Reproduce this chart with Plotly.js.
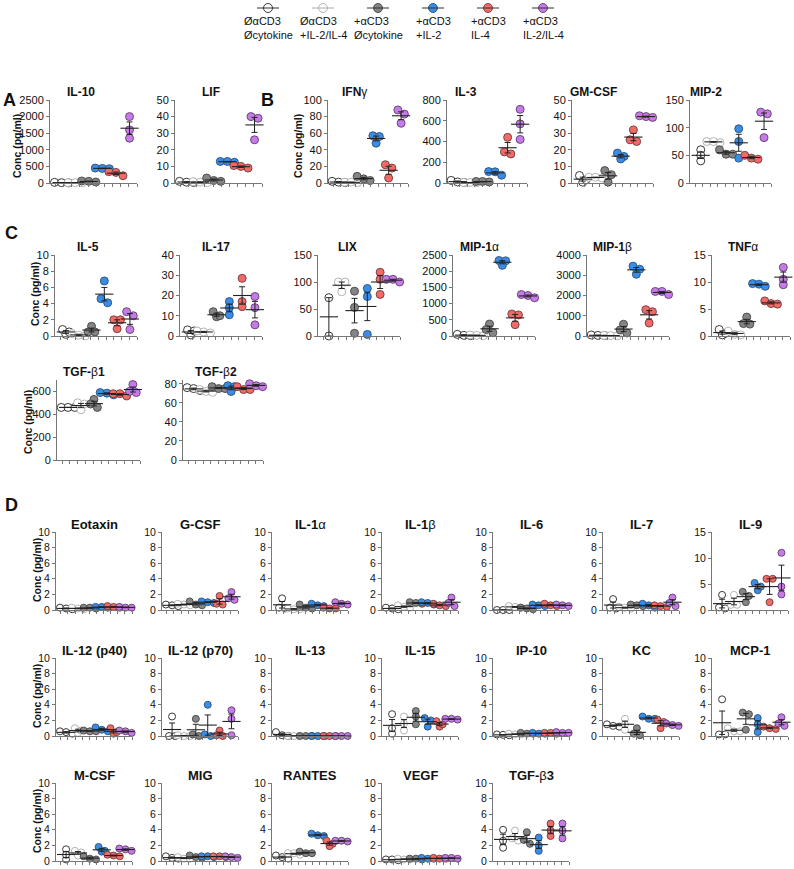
<!DOCTYPE html>
<html>
<head>
<meta charset="utf-8">
<script src="https://cdn.plot.ly/plotly-3.0.1.min.js"></script>
<style>
  html, body { margin: 0; padding: 0; background: #fff; }
  #chart { width: 794px; height: 869px; }
</style>
</head>
<body>
<div id="chart"></div>
<script>
// groups (legend order)
const groupLabels = ['ØαCD3<br>Øcytokine', 'ØαCD3<br>+IL-2/IL-4', '+αCD3<br>Øcytokine',
                     '+αCD3<br>+IL-2', '+αCD3<br>IL-4', '+αCD3<br>IL-2/IL-4'];

// values, pg/ml, 3 replicates per group
const IL10  = [[20,10,5],[10,5,10],[60,30,50],[450,440,430],[340,220,320],[2000,1600,1350]];
const LIF   = [[1,0.5,0.3],[0.5,0.2,0.8],[3,1,1.5],[13,12.5,13],[10.5,9,10],[40,39,26]];
const IFNG  = [[2,0.5,1],[1,0.5,1],[8,3,5],[57,56,48],[22,18,6],[88,83,72]];
const IL3   = [[25,5,10],[5,5,3],[15,10,15],[110,108,75],[440,300,280],[710,570,420]];
const GMCSF = [[4.5,0.5,2],[3.5,3,3.5],[7.5,0.5,5],[18,16,14.5],[32,25,26],[40.5,40,39.5]];
const MIP2  = [[60,50,40],[75,73,75],[60,52,52],[98,75,45],[50,45,43],[128,125,82]];

const IL5   = [[0.8,0.2,0.5],[0.3,0,0.1],[1.2,0.5,0.5],[6.8,4.6,4.1],[2,2,0.9],[3,2.5,0.8]];
const IL17  = [[3,0.5,2.5],[2.5,2,1.5],[12,9.5,10],[17,14,10.5],[28.5,17,14.5],[19.5,14,5.5]];
const LIX   = [[71,0],[100,100,82],[83,53,5],[88,73,3],[118,105,77],[105,105,100]];
const MIP1A = [[50,20,10],[20,10,30],[370,200,100],[2330,2320,2180],[680,650,350],[1280,1250,1180]];
const MIP1B = [[50,20,30],[30,20,10],[580,300,150],[3450,3300,3050],[1300,1200,640],[2200,2200,2050]];
const TNFA  = [[1.2,0.2,0.5],[0.9,0.3,0.2],[3.5,2.3,2.2],[9.7,9.6,9.2],[6.5,6,5.9],[12.7,10.5,9.5]];
const TGFB1 = [[460,460,460],[500,490,440],[530,490,460],[590,585,570],[580,580,560],[660,600,590]];
const TGFB2 = [[76,75,73],[74,72,71],[77,75,75],[78,77,72],[77,74,74],[80,78,77]];

const EOTAXIN = [[0.3,0.1,0.2],[0.2,0.1,0.3],[0.3,0.2,0.3],[0.4,0.3,0.4],[0.5,0.3,0.4],[0.4,0.3,0.3]];
const GCSF    = [[0.7,0.6,0.5],[0.7,0.6,0.8],[1.1,0.6,0.7],[1.0,0.9,1.1],[1.8,0.7,0.8],[2.3,1.5,1.3]];
const IL1A    = [[1.5,0.3,0.2],[0.2,0.1,0.1],[0.7,0.2,0.3],[0.8,0.5,0.6],[0.3,0.2,0.2],[1.0,0.7,0.8]];
const IL1B    = [[0.3,0.1,0.2],[0.3,0.4,0.6],[1.0,0.8,0.9],[1.0,0.7,0.9],[0.8,0.5,0.6],[1.6,0.5,0.9]];
const IL6     = [[0,0,0],[0.4,0.3,0.5],[0.2,0.1,0.3],[0.5,0.6,0.7],[0.8,0.5,0.6],[0.7,0.6,0.5]];
const IL7     = [[1.4,0.2,0.3],[0.3,0.2,0.4],[0.7,0.5,0.6],[0.8,0.3,0.6],[0.5,0.4,0.6],[1.6,0.5,0.9]];
const IL9     = [[2.9,0.5,0.3],[2.9,1.0,1.0],[3.5,2.7,1.5],[5.2,3.8,4.5],[6,6,1.5],[11,4.5,3]];

const IL12P40 = [[0.6,0.3,0.5],[1.0,0.4,0.7],[0.7,0.6,0.6],[1.1,0.6,0.8],[1.0,0.3,0.5],[0.7,0.6,0.4]];
const IL12P70 = [[2.5,0,0],[0.1,0,0],[2.2,0.2,0],[4.0,0.2,0],[0.7,0.1,0],[3.3,2.2,0.1]];
const IL13    = [[0.5,0.1,0],[0,0,0],[0,0,0],[0,0,0],[0,0,0],[0,0,0]];
const IL15    = [[2.8,0.3,1.0],[2.5,0.7,1.6],[3.2,2.5,1.5],[2.3,2.0,1.2],[1.9,1.2,1.5],[2.2,2.1,2.2]];
const IP10    = [[0.2,0.1,0.15],[0.3,0.2,0.2],[0.3,0.3,0.4],[0.4,0.3,0.3],[0.4,0.3,0.4],[0.5,0.4,0.4]];
const KC      = [[1.5,1.2,1.3],[2.2,1.5,0.8],[1.0,0.3,0.1],[2.5,2.2,2.2],[2.1,1.8,1.0],[1.6,1.3,1.4]];
const MCP1    = [[4.7,0.2,0.2],[1.0,0.6,0.6],[3.0,2.8,0.8],[2.3,1.5,0.5],[1.2,1.0,0.9],[2.4,1.6,1.3]];

const MCSF    = [[1.5,0.2,0.8],[1.1,1.3,0.7],[0.6,0.2,0.3],[1.8,1.2,1.3],[0.8,0.6,0.7],[1.6,1.3,1.5]];
const MIG     = [[0.6,0.3,0.4],[0.5,0.3,0.3],[0.7,0.5,0.4],[0.6,0.5,0.6],[0.6,0.5,0.6],[0.6,0.5,0.4]];
const RANTES  = [[0.7,0.3,0.5],[1.0,0.8,1.0],[1.2,1.0,1.0],[3.5,3.2,3.3],[2.6,2.2,1.9],[2.6,2.5,2.6]];
const VEGF    = [[0.2,0.1,0.2],[0.3,0.2,0.2],[0.3,0.2,0.3],[0.3,0.3,0.4],[0.4,0.3,0.3],[0.4,0.3,0.4]];
const TGFB3   = [[4.0,2.6,1.7],[3.9,2.9,2.6],[3.7,2.7,2.2],[3.0,2.0,1.3],[4.8,3.9,3.2],[4.8,3.9,2.9]];

// styles per group
const fillCol = ['#ffffff', '#ffffff', '#858585', '#3a8de6', '#f06b68', '#c77be8'];
const edgeCol = ['#222222', '#aaaaaa', '#444444', '#2b4f7a', '#6e3a3a', '#5e3c6e'];

const W = 794, H = 869;
const FONT = 'Arial, "Liberation Sans", sans-serif';

// row geometry (px); ly = vertical centre of the "Conc" label
const rows = {
  A:  {top: 100, bottom: 183, ly: 146, tf: 12, tk: 11, ms: 8},
  C1: {top: 255, bottom: 336, ly: 294, tf: 12, tk: 11, ms: 8},
  C2: {top: 380, bottom: 460, ly: 422, tf: 12, tk: 11, ms: 8},
  D1: {top: 532, bottom: 610, ly: 570, tf: 13, tk: 10.5, ms: 7},
  D2: {top: 658, bottom: 736, ly: 696, tf: 13, tk: 10.5, ms: 7},
  D3: {top: 783, bottom: 861, ly: 821, tf: 13, tk: 10.5, ms: 7}
};
const dX = [56, 162, 272, 382, 493, 603, 712];

// x = y-axis position, w = width, tx = title centre, yl = y-title centre (px)
const panels = [
  {t: '<b>IL-10</b>', v: IL10, max: 2500, dt: 500, x: 50, w: 87, tx: 81, r: 'A', yl: 17},
  {t: '<b>LIF</b>', v: LIF, max: 50, dt: 10, x: 175, w: 87, tx: 211, r: 'A'},
  {t: '<b>IFN</b>γ', v: IFNG, max: 100, dt: 20, x: 328, w: 80, tx: 354, r: 'A', yl: 298},
  {t: '<b>IL-3</b>', v: IL3, max: 800, dt: 200, x: 447, w: 80, tx: 466, r: 'A'},
  {t: '<b>GM-CSF</b>', v: GMCSF, max: 50, dt: 10, x: 572, w: 81, tx: 593, r: 'A'},
  {t: '<b>MIP-2</b>', v: MIP2, max: 150, dt: 50, x: 690, w: 81, tx: 706, r: 'A'},
  {t: '<b>IL-5</b>', v: IL5, max: 10, dt: 2, x: 55, w: 82, tx: 88, r: 'C1', yl: 35},
  {t: '<b>IL-17</b>', v: IL17, max: 40, dt: 10, x: 180, w: 82, tx: 216, r: 'C1'},
  {t: '<b>LIX</b>', v: LIX, max: 150, dt: 50, x: 318, w: 82, tx: 347, r: 'C1'},
  {t: '<b>MIP-1</b>α', v: MIP1A, max: 2500, dt: 500, x: 453, w: 82, tx: 479, r: 'C1'},
  {t: '<b>MIP-1</b>β', v: MIP1B, max: 4000, dt: 1000, x: 587, w: 82, tx: 612, r: 'C1'},
  {t: '<b>TNF</b>α', v: TNFA, max: 15, dt: 5, x: 712, w: 78, tx: 743, r: 'C1'},
  {t: '<b>TGF-</b>β<b>1</b>', v: TGFB1, max: 700, dt: 200, x: 57, w: 83, tx: 84, r: 'C2', yl: 28},
  {t: '<b>TGF-</b>β<b>2</b>', v: TGFB2, max: 84, dt: 20, x: 183, w: 80, tx: 216, r: 'C2'},
  {t: '<b>Eotaxin</b>', v: EOTAXIN, max: 10, dt: 2, x: dX[0], w: 76, r: 'D1', yl: 37},
  {t: '<b>G-CSF</b>', v: GCSF, max: 10, dt: 2, x: dX[1], w: 76, r: 'D1'},
  {t: '<b>IL-1</b>α', v: IL1A, max: 10, dt: 2, x: dX[2], w: 76, r: 'D1'},
  {t: '<b>IL-1</b>β', v: IL1B, max: 10, dt: 2, x: dX[3], w: 76, r: 'D1'},
  {t: '<b>IL-6</b>', v: IL6, max: 10, dt: 2, x: dX[4], w: 76, r: 'D1'},
  {t: '<b>IL-7</b>', v: IL7, max: 10, dt: 2, x: dX[5], w: 76, r: 'D1'},
  {t: '<b>IL-9</b>', v: IL9, max: 15, dt: 5, x: dX[6], w: 76, r: 'D1'},
  {t: '<b>IL-12 (p40)</b>', v: IL12P40, max: 10, dt: 2, x: dX[0], w: 76, r: 'D2', yl: 37},
  {t: '<b>IL-12 (p70)</b>', v: IL12P70, max: 10, dt: 2, x: dX[1], w: 76, r: 'D2'},
  {t: '<b>IL-13</b>', v: IL13, max: 10, dt: 2, x: dX[2], w: 76, r: 'D2'},
  {t: '<b>IL-15</b>', v: IL15, max: 10, dt: 2, x: dX[3], w: 76, r: 'D2'},
  {t: '<b>IP-10</b>', v: IP10, max: 10, dt: 2, x: dX[4], w: 76, r: 'D2'},
  {t: '<b>KC</b>', v: KC, max: 10, dt: 2, x: dX[5], w: 76, r: 'D2'},
  {t: '<b>MCP-1</b>', v: MCP1, max: 10, dt: 2, x: dX[6], w: 76, r: 'D2'},
  {t: '<b>M-CSF</b>', v: MCSF, max: 10, dt: 2, x: dX[0], w: 76, r: 'D3', yl: 37},
  {t: '<b>MIG</b>', v: MIG, max: 10, dt: 2, x: dX[1], w: 76, r: 'D3'},
  {t: '<b>RANTES</b>', v: RANTES, max: 10, dt: 2, x: dX[2], w: 76, r: 'D3'},
  {t: '<b>VEGF</b>', v: VEGF, max: 10, dt: 2, x: dX[3], w: 76, r: 'D3'},
  {t: '<b>TGF-</b>β<b>3</b>', v: TGFB3, max: 10, dt: 2, x: dX[4], w: 76, r: 'D3'}
];

const X0 = -0.85, X1 = 5.55;
const xTicks = [];
for (let k = 0; k <= 10; k++) xTicks.push(X1 - k * 0.6);

// simple prism-like swarm: rows of near-equal values, centred
function swarm(vals, pxPerUnit, step) {
  const order = vals.map((_, i) => i).sort((a, b) => vals[b] - vals[a]);
  const off = vals.map(() => 0);
  let row = [];
  const flush = () => row.forEach((k, j) => { off[k] = (j - (row.length - 1) / 2) * step; });
  order.forEach(k => {
    if (row.length && (vals[row[0]] - vals[k]) * pxPerUnit > 4.5) { flush(); row = []; }
    row.push(k);
  });
  flush();
  return off;
}

const traces = [];
const layout = {
  width: W, height: H,
  margin: {l: 0, r: 0, t: 0, b: 0},
  paper_bgcolor: '#fff', plot_bgcolor: 'rgba(0,0,0,0)',
  showlegend: false,
  font: {family: FONT, color: '#111'},
  annotations: []
};

panels.forEach((p, i) => {
  const R = rows[p.r];
  const n = i + 1;
  const xa = n === 1 ? 'x' : 'x' + n, ya = n === 1 ? 'y' : 'y' + n;
  const pxPerUnit = (R.bottom - R.top) / p.max;
  const gx = [], gy = [], fc = [], ec = [];
  p.v.forEach((vals, g) => {
    const off = swarm(vals, pxPerUnit, 0.52);
    vals.forEach((val, k) => {
      gx.push(g + off[k]); gy.push(val); fc.push(fillCol[g]); ec.push(edgeCol[g]);
    });
  });
  traces.push({
    type: 'scatter', mode: 'markers', x: gx, y: gy, xaxis: xa, yaxis: ya,
    cliponaxis: false, hoverinfo: 'skip',
    marker: {size: R.ms, color: fc, line: {color: ec, width: 0.9}}
  });
  const means = p.v.map(a => a.reduce((s, q) => s + q, 0) / a.length);
  const sems = p.v.map((a, g) => {
    const m = means[g];
    const sd = Math.sqrt(a.reduce((s, q) => s + (q - m) * (q - m), 0) / (a.length - 1));
    return sd / Math.sqrt(a.length);
  });
  traces.push({
    type: 'scatter', mode: 'markers', x: [0, 1, 2, 3, 4, 5], y: means, xaxis: xa, yaxis: ya,
    cliponaxis: false, hoverinfo: 'skip',
    marker: {symbol: 'line-ew', size: 13, color: '#222', line: {color: '#222', width: 1.1}},
    error_y: {type: 'data', array: sems, visible: true, color: '#222', thickness: 1, width: 3}
  });

  layout['xaxis' + (n === 1 ? '' : n)] = {
    domain: [p.x / W, (p.x + p.w) / W], range: [X0, X1], anchor: ya,
    showgrid: false, zeroline: false, showline: true, linecolor: '#777', linewidth: 1,
    ticks: 'outside', ticklen: 3, tickcolor: '#777', tickvals: xTicks, showticklabels: false,
    fixedrange: true
  };
  layout['yaxis' + (n === 1 ? '' : n)] = {
    domain: [1 - R.bottom / H, 1 - R.top / H], range: [0, p.max], anchor: xa,
    tick0: 0, dtick: p.dt, showgrid: false, zeroline: false, showline: true,
    linecolor: '#777', linewidth: 1, ticks: 'outside', ticklen: 3, tickcolor: '#777',
    tickfont: {size: R.tk, color: '#111'}, fixedrange: true
  };
  const tx = p.tx !== undefined ? p.tx : p.x + p.w / 2;
  layout.annotations.push({
    xref: 'paper', yref: 'paper', x: tx / W, y: 1 - (R.top - 8) / H,
    xanchor: 'center', yanchor: 'middle', showarrow: false, text: p.t,
    font: {size: R.tf, color: '#111'}
  });
  if (p.yl !== undefined) {
    layout.annotations.push({
      xref: 'paper', yref: 'paper', x: p.yl / W, y: 1 - R.ly / H,
      xanchor: 'center', yanchor: 'middle', textangle: -90, showarrow: false,
      text: '<b>Conc (pg/ml)</b>', font: {size: 10.5, color: '#111'}
    });
  }
});

// panel letters
[['A', 9, 100], ['B', 267, 100], ['C', 11, 233], ['D', 11, 505]].forEach(([t, x, y]) => {
  layout.annotations.push({
    xref: 'paper', yref: 'paper', x: x / W, y: 1 - y / H, xanchor: 'center', yanchor: 'middle',
    showarrow: false, text: '<b>' + t + '</b>', font: {size: 18, color: '#111'}
  });
});

// legend on its own axes (pixel coords)
const L = panels.length + 1;
layout['xaxis' + L] = {domain: [0, 1], range: [0, W], visible: false, fixedrange: true, anchor: 'y' + L};
layout['yaxis' + L] = {domain: [1 - 16 / H, 1], range: [16, 0], visible: false, fixedrange: true, anchor: 'x' + L};
groupLabels.forEach((lab, g) => {
  const cx = 268 + g * 55;
  const lc = g === 1 ? '#aaa' : '#333';
  traces.push({
    type: 'scatter', mode: 'lines', x: [cx - 11, cx + 11], y: [8, 8],
    xaxis: 'x' + L, yaxis: 'y' + L, hoverinfo: 'skip', cliponaxis: false,
    line: {color: lc, width: 1}
  });
  traces.push({
    type: 'scatter', mode: 'markers', x: [cx], y: [8],
    xaxis: 'x' + L, yaxis: 'y' + L, hoverinfo: 'skip', cliponaxis: false,
    marker: {size: 9, color: fillCol[g], line: {color: edgeCol[g], width: 0.9}}
  });
  traces.push({
    type: 'scatter', mode: 'lines', x: [cx - 4.5, cx + 4.5], y: [8, 8],
    xaxis: 'x' + L, yaxis: 'y' + L, hoverinfo: 'skip', cliponaxis: false,
    line: {color: lc, width: 1}
  });
  layout.annotations.push({
    xref: 'paper', yref: 'paper', x: cx / W, y: 1 - 28 / H, xanchor: 'center', yanchor: 'middle',
    align: 'left', showarrow: false, text: lab, font: {size: 11, color: '#111'}
  });
});

Plotly.newPlot('chart', traces, layout, {staticPlot: true, displayModeBar: false});
</script>
</body>
</html>
